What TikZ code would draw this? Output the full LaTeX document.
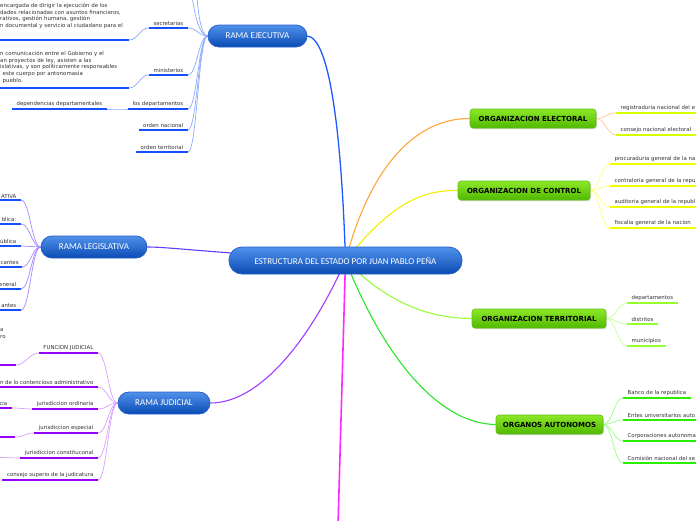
\documentclass[tikz,border=0pt]{standalone}
\usepackage{fontspec}
\setmainfont{DejaVu Sans}
\newfontfamily\carl{Carlito}
\usetikzlibrary{shadows,backgrounds}
\definecolor{bluebar}{RGB}{20,80,255}
\definecolor{blueconn}{RGB}{140,170,255}
\definecolor{bluemain}{RGB}{30,90,255}
\definecolor{legmain}{RGB}{100,60,255}
\definecolor{legconn}{RGB}{165,135,255}
\definecolor{judmain}{RGB}{160,60,255}
\definecolor{judbar}{RGB}{150,0,255}
\definecolor{judconn}{RGB}{215,160,255}
\definecolor{magline}{RGB}{255,40,255}
\definecolor{elecmain}{RGB}{255,165,60}
\definecolor{elecbar}{RGB}{215,255,0}
\definecolor{elecconn}{RGB}{255,200,150}
\definecolor{ctrlmain}{RGB}{240,240,0}
\definecolor{ctrlbar}{RGB}{240,255,0}
\definecolor{ctrlconn}{RGB}{255,255,120}
\definecolor{terrmain}{RGB}{150,255,60}
\definecolor{terrbar}{RGB}{150,255,50}
\definecolor{terrconn}{RGB}{200,255,150}
\definecolor{autmain}{RGB}{40,230,40}
\definecolor{autbar}{RGB}{40,240,0}
\definecolor{autconn}{RGB}{150,255,130}
\definecolor{topblue}{RGB}{80,145,235}
\definecolor{botblue}{RGB}{10,75,180}
\definecolor{edgeblue}{RGB}{40,95,200}
\definecolor{topgreen}{RGB}{140,232,40}
\definecolor{botgreen}{RGB}{80,185,0}
\definecolor{edgegreen}{RGB}{95,190,20}
\definecolor{txtgray}{RGB}{50,50,50}
\tikzset{
  mainbox/.style={rounded corners=13pt, minimum width=233pt, minimum height=27pt,
    top color=topblue, bottom color=botblue, draw=edgeblue, line width=0.8pt,
    text=white, font=\carl\fontsize{9}{10}\selectfont, inner sep=0pt},
  ramabox/.style={mainbox, rounded corners=11pt, minimum height=22pt},
  greenbox/.style={rounded corners=3pt, minimum height=19pt, inner sep=0pt,
    top color=topgreen, bottom color=botgreen, draw=edgegreen, line width=0.6pt,
    font=\bfseries\fontsize{7}{8}\selectfont, text=black,
    drop shadow={opacity=0.3, shadow xshift=0.8pt, shadow yshift=-1.2pt}},
  lit/.style={anchor=south east, inner xsep=4.5pt, inner ysep=1.8pt,
    font=\fontsize{5.4}{6.4}\selectfont, text=txtgray},
  rit/.style={lit, anchor=south west},
  cutr/.style={text width=95pt, align=left},
  blocktxt/.style={anchor=north west, inner sep=0pt, align=left,
    font=\fontsize{5.45}{6.9}\selectfont, text=txtgray},
  barline/.style={line width=2pt},
  conn/.style={line width=0.7pt},
  bigconn/.style={line width=1.3pt}
}
\begin{document}
\begin{tikzpicture}[x=1pt,y=-1pt]
\useasboundingbox (0,0) rectangle (696,520);

% main and branches
\node[mainbox] (root) at (345.5,260.5) {ESTRUCTURA DEL ESTADO POR JUAN PABLO PEÑA};
\node[ramabox, minimum width=99pt] (ejec) at (257.5,36) {RAMA EJECUTIVA};
\node[ramabox, minimum width=106pt] (legi) at (94,247) {RAMA LEGISLATIVA};
\node[ramabox, minimum width=92pt] (judi) at (164,403) {RAMA JUDICIAL};
\node[greenbox, minimum width=126pt] (elec) at (533,118.5) {ORGANIZACION ELECTORAL};
\node[greenbox, minimum width=132pt] (ctrl) at (524,190.5) {ORGANIZACION DE CONTROL};
\node[greenbox, minimum width=134pt] (terr) at (539,318.5) {ORGANIZACION TERRITORIAL};
\node[greenbox, minimum width=107pt] (auto) at (549.5,424.5) {ORGANOS AUTONOMOS};

% rama ejecutiva
\node[lit] (e1) at (188,28) {secretarias};
\node[lit] (e2) at (188,75) {ministerios};
\node[lit] (e3) at (188,109) {los departamentos};
\node[lit] (e4) at (188,130) {orden nacional};
\node[lit] (e5) at (188,152) {orden territorial};
\node[lit] (e3a) at (107,109) {dependencias departamentales};
\node[blocktxt] (e1t) at (0,2.6) {encargada de dirigir la ejecución de los\\dades relacionadas con asuntos financieros,\\rativos, gestión humana, gestión\\n documental y servicio al ciudadano para el};
\node[blocktxt] (e2t) at (0,50.6) {n comunicación entre el Gobierno y el\\an proyectos de ley, asisten a las\\islativas, y son políticamente responsables\\\hspace*{2.5pt}este cuerpo por antonomasia\\\hspace*{2.5pt}pueblo.};
\coordinate (e1b) at (129,40);
\coordinate (e2b) at (129,88);
\coordinate (up1) at (192,-4);
\coordinate (up2) at (197,-4);
\foreach \n in {e1,e2,e3,e4,e5,e3a} \draw[barline,bluebar] (\n.south west) -- (\n.south east);
\draw[barline,bluebar] (e1b) -- ++(-135,0);
\draw[barline,bluebar] (e2b) -- ++(-135,0);

% rama legislativa
\node[lit] (l1) at (21,200) {ATIVA};
\node[lit] (l2) at (21,224) {blica:};
\node[lit] (l3) at (21,246) {ública};
\node[lit, inner xsep=3.2pt] (l4) at (22,267) {cantes};
\node[lit] (l5) at (21,289) {eneral};
\node[lit] (l6) at (21,310) {antes};
\foreach \n in {l1,l2,l3,l5,l6} \draw[barline,bluebar] (\n.south west) -- (\n.south east);
\draw[barline,bluebar] ([xshift=-3pt]l4.south west) -- (l4.south east);

% rama judicial
\node[lit] (j1) at (98,353) {FUNCION JUDICIAL};
\node[lit] (j2) at (98,387) {n de lo contencioso administrativo};
\node[lit] (j3) at (98,409) {jurisdiccion ordinaria};
\node[lit] (j4) at (98,433) {jurisdiccion especial};
\node[lit] (j5) at (98,458) {jurisdiccion constituconal};
\node[lit] (j6) at (98,480) {consejo superio de la judicatura};
\node[lit] (j3a) at (12,408) {cia};
\node[blocktxt] (j1t) at (0,328.5) {a\\ro};
\coordinate (j1b) at (16,365);
\coordinate (j4b) at (15,437);
\coordinate (j5b) at (-1,457.5);
\foreach \n in {j1,j2,j3,j4,j5,j6,j3a} \draw[barline,judbar] (\n.south west) -- (\n.south east);
\draw[barline,judbar] (j1b) -- ++(-20,0);
\draw[barline,judbar] (j4b) -- ++(-20,0);

% organizacion electoral
\node[rit, cutr] (r1) at (616,113) {registraduria nacional del e};
\node[rit, cutr] (r2) at (616,135) {consejo nacional electoral};
\foreach \n in {r1,r2} \draw[barline,elecbar] (\n.south west) -- (\n.south east);

% organizacion de control
\node[rit, cutr] (c1) at (610,164) {procuraduria general de la na};
\node[rit, cutr] (c2) at (610,186) {contraloria general de la repu};
\node[rit, cutr] (c3) at (610,207) {auditoria general de la republ};
\node[rit, cutr] (c4) at (610,228) {fiscalia general de la nacion};
\foreach \n in {c1,c2,c3,c4} \draw[barline,ctrlbar] (\n.south west) -- (\n.south east);

% organizacion territorial
\node[rit] (t1) at (627,303) {departamentos};
\node[rit] (t2) at (627,324) {distritos};
\node[rit] (t3) at (627,346) {municipios};
\foreach \n in {t1,t2,t3} \draw[barline,terrbar] (\n.south west) -- (\n.south east);

% organos autonomos
\node[rit] (a1) at (623,398) {Banco de la republica};
\node[rit, cutr] (a2) at (623,420) {Entes universitarios auto};
\node[rit, cutr] (a3) at (623,441) {Corporaciones autonoma};
\node[rit, cutr] (a4) at (623,463) {Comisión nacional del se};
\foreach \n in {a1,a2,a3,a4} \draw[barline,autbar] (\n.south west) -- (\n.south east);

\coordinate (magend) at (338,526);

\begin{pgfonlayer}{background}
% main connectors
\draw[bigconn,bluemain] (root.center) .. controls (341,120) and (328,38) .. (ejec.east);
\draw[bigconn,legmain,line width=1.1pt] (root.center) .. controls (200,252) and (170,247) .. (legi.east);
\draw[bigconn,judmain,line width=1.1pt] (root.center) .. controls (310,340) and (260,403) .. (judi.east);
\draw[bigconn,magline,line width=1.6pt] (root.center) -- (magend);
\draw[bigconn,elecmain,line width=1.1pt] (root.center) .. controls (372,160) and (420,118) .. (elec.west);
\draw[bigconn,ctrlmain,line width=1.1pt] (root.center) .. controls (390,205) and (420,190) .. (ctrl.west);
\draw[bigconn,terrmain,line width=1.1pt] (root.center) .. controls (390,305) and (430,318) .. (terr.west);
\draw[bigconn,autmain,line width=1.1pt] (root.center) .. controls (385,360) and (440,424) .. (auto.west);
% ejecutiva connectors
\foreach \n in {e1,e2,e3,e4,e5} \draw[conn,blueconn] (ejec.west) .. controls +(-9,0) and +(9,0) .. (\n.south east);
\draw[conn,blueconn] (ejec.west) .. controls +(-9,0) and +(2,14) .. (up1);
\draw[conn,blueconn] (ejec.west) .. controls +(-7,0) and +(1,14) .. (up2);
\draw[conn,blueconn] (e1b) .. controls +(9,0) and +(-9,0) .. (e1.south west);
\draw[conn,blueconn] (e2b) .. controls +(9,0) and +(-9,0) .. (e2.south west);
\draw[conn,blueconn] (e3a.south east) .. controls +(9,0) and +(-9,0) .. (e3.south west);
% legislativa connectors
\foreach \n in {l1,l2,l3,l4,l5,l6} \draw[conn,legconn] (legi.west) .. controls +(-9,0) and +(9,0) .. (\n.south east);
% judicial connectors
\foreach \n in {j1,j2,j3,j4,j5,j6} \draw[conn,judconn] (judi.west) .. controls +(-9,0) and +(9,0) .. (\n.south east);
\draw[conn,judconn] (j1b) .. controls +(9,0) and +(-9,0) .. (j1.south west);
\draw[conn,judconn] (j3a.south east) .. controls +(9,0) and +(-9,0) .. (j3.south west);
\draw[conn,judconn] (j4b) .. controls +(9,0) and +(-9,0) .. (j4.south west);
\draw[conn,judconn] (j5b) .. controls +(9,0) and +(-9,0) .. (j5.south west);
% right side connectors
\foreach \n in {r1,r2} \draw[conn,elecconn] (elec.east) .. controls +(9,0) and +(-9,0) .. (\n.south west);
\foreach \n in {c1,c2,c3,c4} \draw[conn,ctrlconn] (ctrl.east) .. controls +(9,0) and +(-9,0) .. (\n.south west);
\foreach \n in {t1,t2,t3} \draw[conn,terrconn] (terr.east) .. controls +(9,0) and +(-9,0) .. (\n.south west);
\foreach \n in {a1,a2,a3,a4} \draw[conn,autconn] (auto.east) .. controls +(9,0) and +(-9,0) .. (\n.south west);
\end{pgfonlayer}
\end{tikzpicture}
\end{document}
